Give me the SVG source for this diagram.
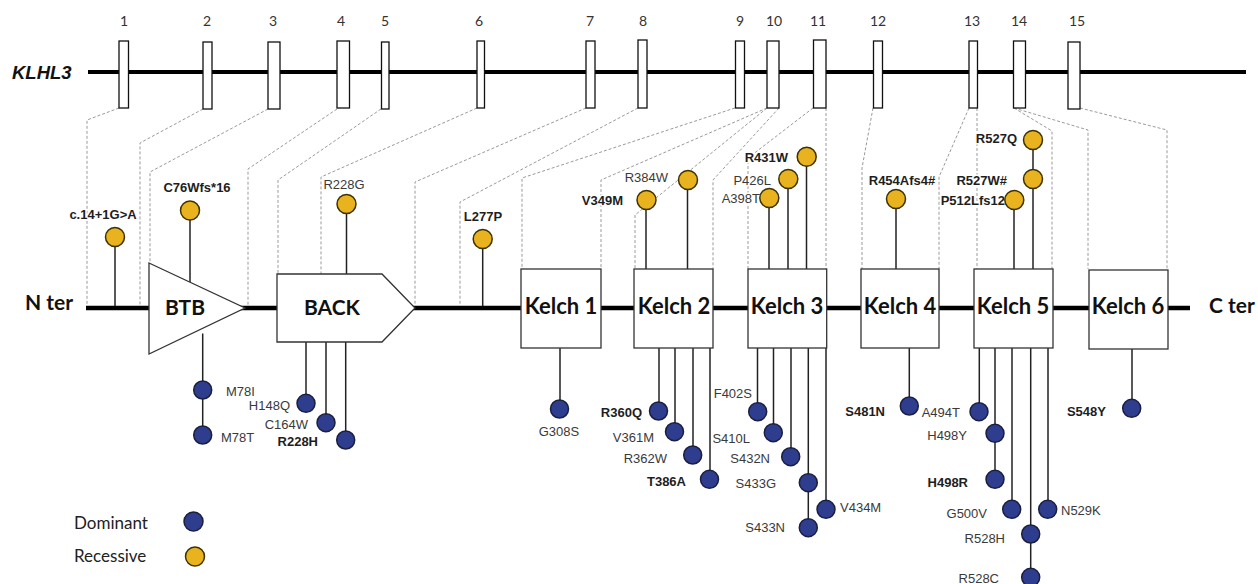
<svg xmlns="http://www.w3.org/2000/svg" width="1258" height="584" viewBox="0 0 1258 584">
<style>
.bg{fill:#fff}
.gene{stroke:#000;stroke-width:4;fill:none}
.prot{stroke:#000;stroke-width:4.5;fill:none}
.exon{fill:#fff;stroke:#111;stroke-width:1.3}
.exnum{font-family:Lato,"Open Sans",sans-serif;font-size:14px;fill:#333;text-anchor:middle}
.dash{fill:none;stroke:#9a9a9a;stroke-width:1;stroke-dasharray:3 2}
.stem{stroke:#222;stroke-width:1.5;fill:none}
.dom{fill:#fff;stroke:#333;stroke-width:1.3}
.dtxt{font-family:Lato,"Open Sans",sans-serif;font-weight:bold;font-size:21px;fill:#111;text-anchor:middle}
.ktxt{font-size:22px}
.ter{font-family:Lato,"Open Sans",sans-serif;font-weight:bold;font-size:21px;fill:#111}
.rec{fill:#E8B31E;stroke:#3d3200;stroke-width:1.5}
.dom-c{fill:#2F3D8F;stroke:#1a1f3f;stroke-width:1.5}
.lb{font-family:"Liberation Sans",Arial,sans-serif;font-size:13px;fill:#3a3a3a;paint-order:stroke;stroke:#fff;stroke-width:3;stroke-linejoin:round}
.b{font-weight:bold;fill:#1e1e1e}
.e{text-anchor:end}
.m{text-anchor:middle}
.leg{font-family:Lato,"Open Sans",sans-serif;font-size:17px;fill:#222}
</style>
<rect class="bg" x="0" y="0" width="1258" height="584"/>

<g id="gene">
  <text x="12" y="79" font-family="Liberation Sans, Arial, sans-serif" font-weight="bold" font-style="italic" font-size="18.5" fill="#111">KLHL3</text>
  <line class="gene" x1="88" y1="72" x2="1246" y2="72"/>
</g>

<g id="backbone">
  <line class="prot" x1="86" y1="308" x2="1190" y2="308"/>
  <text class="ter" x="25" y="310">N ter</text>
  <text class="ter" x="1209" y="313">C ter</text>
</g>

<g id="connectors">
  <path class="dash" d="M119,108 L87,120 L87,306"/>
  <path class="dash" d="M203,109 L140,143 L140,306"/>
  <path class="dash" d="M268,109 L150,172 L150,263"/>
  <path class="dash" d="M337,109 L248,169 L248,306"/>
  <path class="dash" d="M381,109 L278,180 L278,274"/>
  <path class="dash" d="M477,108 L321,177 L321,274"/>
  <path class="dash" d="M586,108 L415,182 L415,306"/>
  <path class="dash" d="M638,108 L460,202 L460,306"/>
  <path class="dash" d="M735,108 L522,178 L522,269"/>
  <path class="dash" d="M767,108 L601,180 L601,269"/>
  <path class="dash" d="M767,108 L635,215 L635,269"/>
  <path class="dash" d="M779,108 L713,180 L713,269"/>
  <path class="dash" d="M813,108 L748,158 L748,269"/>
  <path class="dash" d="M826,108 L826,269"/>
  <path class="dash" d="M873,108 L862,168 L862,269"/>
  <path class="dash" d="M969,108 L939,177 L939,269"/>
  <path class="dash" d="M977,108 L977,269"/>
  <path class="dash" d="M1014,108 L1052,131 L1052,269"/>
  <path class="dash" d="M1014,108 L1088,130 L1088,269"/>
  <path class="dash" d="M1080,108 L1167,130 L1167,269"/>

  <line class="stem" x1="115" y1="246" x2="115" y2="306"/>
  <line class="stem" x1="190" y1="219" x2="190" y2="282"/>
  <line class="stem" x1="346.5" y1="213" x2="346.5" y2="274"/>
  <line class="stem" x1="482.7" y1="248" x2="482.7" y2="306"/>
  <line class="stem" x1="646" y1="209" x2="646" y2="269"/>
  <line class="stem" x1="687.5" y1="189" x2="687.5" y2="269"/>
  <line class="stem" x1="769" y1="207" x2="769" y2="269"/>
  <line class="stem" x1="788" y1="188" x2="788" y2="269"/>
  <line class="stem" x1="806.5" y1="166" x2="806.5" y2="269"/>
  <line class="stem" x1="896" y1="208" x2="896" y2="269"/>
  <line class="stem" x1="1033" y1="149" x2="1033" y2="269"/>
  <line class="stem" x1="1014" y1="209" x2="1014" y2="269"/>

  <line class="stem" x1="202.7" y1="333.5" x2="202.7" y2="435"/>
  <line class="stem" x1="306" y1="342" x2="306" y2="403"/>
  <line class="stem" x1="326" y1="342" x2="326" y2="422"/>
  <line class="stem" x1="345.7" y1="342" x2="345.7" y2="440"/>
  <line class="stem" x1="560" y1="348" x2="560" y2="409"/>
  <line class="stem" x1="659" y1="348" x2="659" y2="411"/>
  <line class="stem" x1="675" y1="348" x2="675" y2="432"/>
  <line class="stem" x1="693" y1="348" x2="693" y2="455"/>
  <line class="stem" x1="710" y1="348" x2="710" y2="479"/>
  <line class="stem" x1="757.5" y1="348" x2="757.5" y2="412"/>
  <line class="stem" x1="773.5" y1="348" x2="773.5" y2="433"/>
  <line class="stem" x1="791" y1="348" x2="791" y2="457"/>
  <line class="stem" x1="808.3" y1="348" x2="808.3" y2="528"/>
  <line class="stem" x1="826" y1="348" x2="826" y2="509"/>
  <line class="stem" x1="909.3" y1="348" x2="909.3" y2="406"/>
  <line class="stem" x1="979.3" y1="348" x2="979.3" y2="412"/>
  <line class="stem" x1="995" y1="348" x2="995" y2="479"/>
  <line class="stem" x1="1012" y1="348" x2="1012" y2="509"/>
  <line class="stem" x1="1030.7" y1="348" x2="1030.7" y2="577"/>
  <line class="stem" x1="1048" y1="348" x2="1048" y2="509"/>
  <line class="stem" x1="1132" y1="349" x2="1132" y2="408"/>
</g>

<g id="exons">
  <g id="exon1"><rect class="exon" x="119" y="41" width="9.5" height="67"/><text class="exnum" x="124" y="26">1</text></g>
  <g id="exon2"><rect class="exon" x="203" y="42" width="9" height="67"/><text class="exnum" x="207" y="26">2</text></g>
  <g id="exon3"><rect class="exon" x="268" y="42" width="12" height="67"/><text class="exnum" x="273" y="26">3</text></g>
  <g id="exon4"><rect class="exon" x="337" y="41" width="12.5" height="67"/><text class="exnum" x="341" y="26">4</text></g>
  <g id="exon5"><rect class="exon" x="381.5" y="42" width="7.5" height="67"/><text class="exnum" x="385" y="26">5</text></g>
  <g id="exon6"><rect class="exon" x="477" y="41" width="7.5" height="67"/><text class="exnum" x="479" y="26">6</text></g>
  <g id="exon7"><rect class="exon" x="586" y="41" width="9" height="67"/><text class="exnum" x="590" y="26">7</text></g>
  <g id="exon8"><rect class="exon" x="638" y="40" width="9" height="68"/><text class="exnum" x="643" y="26">8</text></g>
  <g id="exon9"><rect class="exon" x="735.5" y="41" width="9" height="67"/><text class="exnum" x="740" y="26">9</text></g>
  <g id="exon10"><rect class="exon" x="767" y="41" width="12" height="67"/><text class="exnum" x="774" y="26">10</text></g>
  <g id="exon11"><rect class="exon" x="813.5" y="40" width="12.5" height="68"/><text class="exnum" x="818" y="26">11</text></g>
  <g id="exon12"><rect class="exon" x="873.5" y="41" width="9" height="67"/><text class="exnum" x="878" y="26">12</text></g>
  <g id="exon13"><rect class="exon" x="969" y="41" width="8.5" height="67"/><text class="exnum" x="972" y="26">13</text></g>
  <g id="exon14"><rect class="exon" x="1013.5" y="41" width="12" height="67"/><text class="exnum" x="1019" y="26">14</text></g>
  <g id="exon15"><rect class="exon" x="1068" y="42" width="12" height="67"/><text class="exnum" x="1077" y="26">15</text></g>
</g>

<g id="BTB"><polygon class="dom" points="149,263 245,308 149,354"/><text class="dtxt" x="185" y="315">BTB</text></g>
<g id="BACK"><polygon class="dom" points="277,274 382,274 415,308 382,342 277,342"/><text class="dtxt" x="332" y="315">BACK</text></g>
<g id="kelch1"><rect class="dom" x="521" y="269" width="80" height="79"/><text class="dtxt ktxt" x="561" y="314">Kelch 1</text></g>
<g id="kelch2"><rect class="dom" x="634" y="269" width="79" height="79"/><text class="dtxt ktxt" x="674" y="314">Kelch 2</text></g>
<g id="kelch3"><rect class="dom" x="748" y="269" width="78.7" height="79"/><text class="dtxt ktxt" x="787" y="314">Kelch 3</text></g>
<g id="kelch4"><rect class="dom" x="861" y="269" width="78" height="79"/><text class="dtxt ktxt" x="900" y="314">Kelch 4</text></g>
<g id="kelch5"><rect class="dom" x="974" y="269" width="79" height="79"/><text class="dtxt ktxt" x="1013" y="314">Kelch 5</text></g>
<g id="kelch6"><rect class="dom" x="1089" y="270" width="79" height="79"/><text class="dtxt ktxt" x="1128" y="314">Kelch 6</text></g>

<g id="c14"><text class="lb b m" x="103" y="219">c.14+1G&gt;A</text><circle class="rec" cx="115" cy="237" r="9.5"/></g>
<g id="C76Wfs16"><text class="lb b m" x="197" y="191.5">C76Wfs*16</text><circle class="rec" cx="190" cy="210.5" r="9.5"/></g>
<g id="R228G"><text class="lb m" x="344" y="189">R228G</text><circle class="rec" cx="346.5" cy="204" r="9.5"/></g>
<g id="L277P"><text class="lb b m" x="483" y="221">L277P</text><circle class="rec" cx="482.7" cy="239" r="9.5"/></g>
<g id="V349M"><text class="lb b e" x="623" y="205">V349M</text><circle class="rec" cx="646.5" cy="200" r="9.5"/></g>
<g id="R384W"><text class="lb e" x="668" y="181.5">R384W</text><circle class="rec" cx="688" cy="180" r="9.5"/></g>
<g id="A398T"><text class="lb e" x="760" y="203">A398T</text><circle class="rec" cx="769.3" cy="198" r="9.5"/></g>
<g id="P426L"><text class="lb e" x="771" y="185">P426L</text><circle class="rec" cx="788.3" cy="179" r="9.5"/></g>
<g id="R431W"><text class="lb b e" x="788" y="162">R431W</text><circle class="rec" cx="806.7" cy="156.7" r="9.5"/></g>
<g id="R454Afs4"><text class="lb b m" x="902" y="185">R454Afs4#</text><circle class="rec" cx="896" cy="199" r="9.5"/></g>
<g id="R527Q"><text class="lb b e" x="1017" y="143">R527Q</text><circle class="rec" cx="1033" cy="140" r="9.5"/></g>
<g id="R527W"><text class="lb b e" x="1007" y="185">R527W#</text><circle class="rec" cx="1033" cy="179" r="9.5"/></g>
<g id="P512Lfs12"><text class="lb b e" x="1005" y="205">P512Lfs12</text><circle class="rec" cx="1014.3" cy="200" r="9.5"/></g>

<g id="M78I"><text class="lb" x="226" y="396">M78I</text><circle class="dom-c" cx="202.7" cy="390" r="9"/></g>
<g id="M78T"><text class="lb" x="221" y="441.5">M78T</text><circle class="dom-c" cx="202.7" cy="435" r="9"/></g>
<g id="H148Q"><text class="lb e" x="290" y="410">H148Q</text><circle class="dom-c" cx="306" cy="403.3" r="9"/></g>
<g id="C164W"><text class="lb e" x="308" y="429">C164W</text><circle class="dom-c" cx="326" cy="422.7" r="9"/></g>
<g id="R228H"><text class="lb b e" x="318" y="446">R228H</text><circle class="dom-c" cx="345.7" cy="440" r="9"/></g>
<g id="G308S"><text class="lb m" x="559" y="435.5">G308S</text><circle class="dom-c" cx="559.5" cy="409" r="9"/></g>
<g id="R360Q"><text class="lb b e" x="642" y="417">R360Q</text><circle class="dom-c" cx="658.5" cy="411" r="9"/></g>
<g id="V361M"><text class="lb e" x="654" y="441.5">V361M</text><circle class="dom-c" cx="674.5" cy="431.7" r="9"/></g>
<g id="R362W"><text class="lb e" x="667" y="462.5">R362W</text><circle class="dom-c" cx="692.7" cy="455" r="9"/></g>
<g id="T386A"><text class="lb b e" x="686" y="486">T386A</text><circle class="dom-c" cx="709.5" cy="479.3" r="9"/></g>
<g id="F402S"><text class="lb e" x="752" y="398">F402S</text><circle class="dom-c" cx="757.7" cy="411.7" r="9"/></g>
<g id="S410L"><text class="lb e" x="750" y="442.5">S410L</text><circle class="dom-c" cx="773.3" cy="432.7" r="9"/></g>
<g id="S432N"><text class="lb e" x="770" y="463">S432N</text><circle class="dom-c" cx="790.7" cy="456.7" r="9"/></g>
<g id="S433G"><text class="lb e" x="776" y="488">S433G</text><circle class="dom-c" cx="808.3" cy="482.7" r="9"/></g>
<g id="S433N"><text class="lb e" x="785" y="531.5">S433N</text><circle class="dom-c" cx="808.3" cy="527.7" r="9"/></g>
<g id="V434M"><text class="lb" x="840" y="511.5">V434M</text><circle class="dom-c" cx="826" cy="509.3" r="9"/></g>
<g id="S481N"><text class="lb b e" x="885" y="416">S481N</text><circle class="dom-c" cx="909.3" cy="406" r="9"/></g>
<g id="A494T"><text class="lb e" x="960" y="416.5">A494T</text><circle class="dom-c" cx="979" cy="411.7" r="9"/></g>
<g id="H498Y"><text class="lb e" x="967" y="440">H498Y</text><circle class="dom-c" cx="995" cy="433.3" r="9"/></g>
<g id="H498R"><text class="lb b e" x="968" y="486.5">H498R</text><circle class="dom-c" cx="995" cy="479.3" r="9"/></g>
<g id="G500V"><text class="lb e" x="987" y="518">G500V</text><circle class="dom-c" cx="1011.7" cy="509.3" r="9"/></g>
<g id="N529K"><text class="lb" x="1061" y="514.5">N529K</text><circle class="dom-c" cx="1047.7" cy="509.3" r="9"/></g>
<g id="R528H"><text class="lb e" x="1005" y="543">R528H</text><circle class="dom-c" cx="1030.7" cy="534" r="9"/></g>
<g id="R528C"><text class="lb e" x="999" y="583">R528C</text><circle class="dom-c" cx="1030.7" cy="577.3" r="9"/></g>
<g id="S548Y"><text class="lb b e" x="1106" y="416">S548Y</text><circle class="dom-c" cx="1131.7" cy="408.3" r="9"/></g>

<g id="legend">
  <text class="leg" x="74" y="529">Dominant</text>
  <circle class="dom-c" cx="193.5" cy="521.5" r="9.5"/>
  <text class="leg" x="74" y="561.5">Recessive</text>
  <circle class="rec" cx="195" cy="556.5" r="9.5"/>
</g>
</svg>
